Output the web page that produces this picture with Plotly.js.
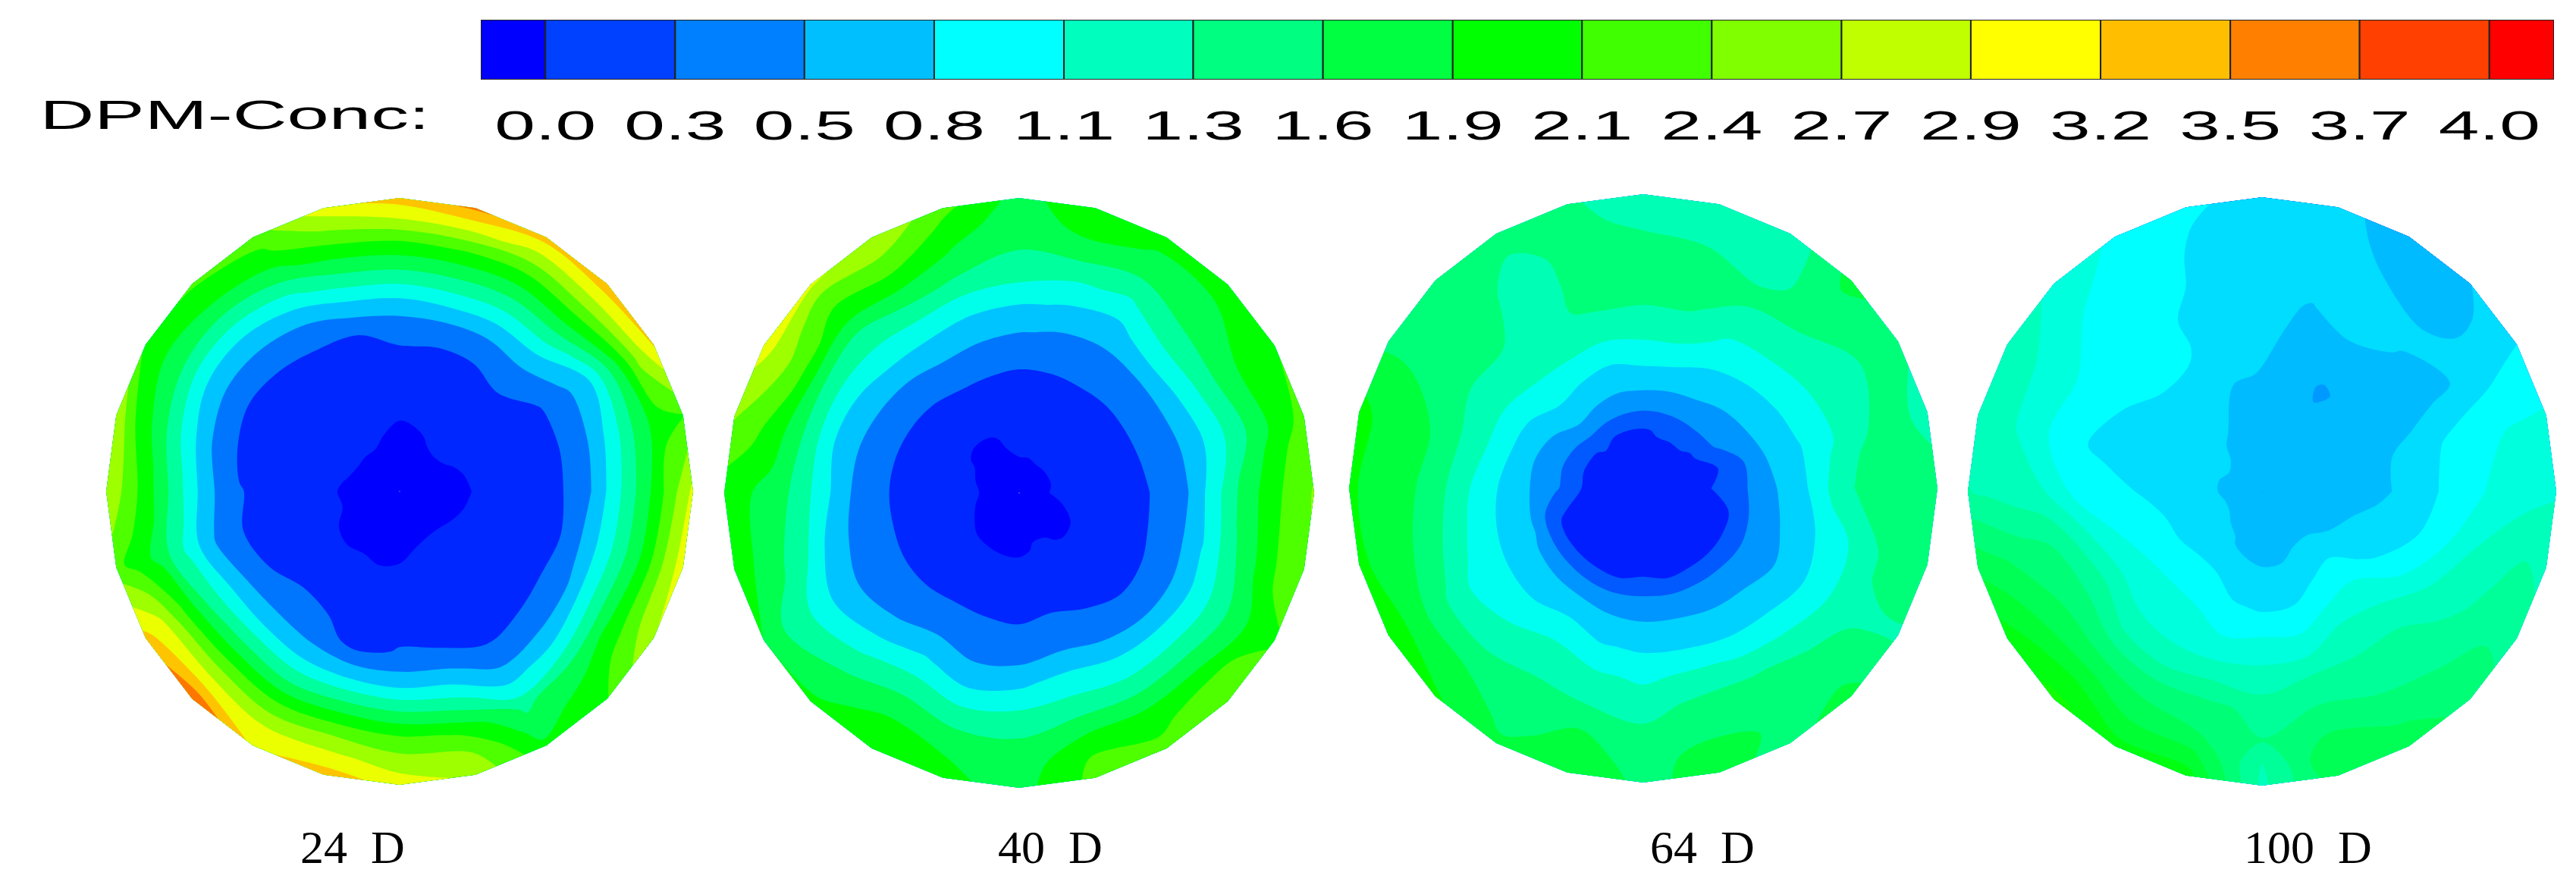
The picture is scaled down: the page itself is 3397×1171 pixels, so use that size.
<!DOCTYPE html>
<html>
<head>
<meta charset="utf-8">
<script src="https://cdn.plot.ly/plotly-3.0.1.min.js"></script>
<style>html,body{margin:0;padding:0;background:#fff}</style>
</head>
<body>
<div id="plot" style="width:3397px;height:1171px"></div>
<script>
//legend levels and colours
const legendLevels=[0,0.267,0.533,0.8,1.067,1.333,1.6,1.867,2.133,2.4,2.667,2.933,3.2,3.467,3.733,4];
const legendLabels=['0.0','0.3','0.5','0.8','1.1','1.3','1.6','1.9','2.1','2.4','2.7','2.9','3.2','3.5','3.7','4.0'];
const legendColors=['#0000ff','#0040ff','#0080ff','#00bfff','#00ffff','#00ffbf','#00ff80','#00ff40','#00ff00','#40ff00','#80ff00','#bfff00','#ffff00','#ffbf00','#ff8000','#ff4000','#ff0000'];
const legendEdges=[-0.133,0,0.267,0.533,0.8,1.067,1.333,1.6,1.867,2.133,2.4,2.667,2.933,3.2,3.467,3.733,4,4.133];

//sampling of the discs: angle in degrees, radius as part of disc radius
const angles=[0,15,30,45,60,75,90,105,120,135,150,165,180,195,210,225,240,255,270,285,300,315,330,345];
const rings=[0.001,0.2,0.4,0.55,0.65,0.75,0.85,0.93,1];
const rings64=[0.001,0.2,0.3,0.4,0.55,0.65,0.75,0.85,0.93,1];

//one row per angle, one column per ring (centre value kept apart)
const centre24=0.05;
const disc24=[
[.10,.28,.40,.69,1.24,1.80,2.30,2.75],
[.12,.29,.39,.64,1.13,1.72,2.02,2.10],
[.15,.30,.40,.62,.99,1.75,2.49,3.00],
[.16,.31,.54,.93,1.49,2.12,2.68,3.15],
[.15,.32,.47,.94,1.49,2.06,2.60,3.10],
[.12,.31,.47,.99,1.55,2.12,2.76,3.30],
[.10,.30,.49,.94,1.52,2.09,2.68,3.10],
[.14,.31,.42,.87,1.45,1.99,2.45,2.85],
[.16,.31,.40,.68,1.15,1.72,2.05,2.25],
[.16,.29,.35,.60,.99,1.55,1.97,2.15],
[.16,.28,.31,.57,.96,1.55,1.87,2.05],
[.15,.29,.36,.65,1.15,1.72,2.10,2.65],
[.13,.31,.44,.77,1.34,1.90,2.30,2.68],
[.14,.31,.42,.69,1.21,1.75,2.00,2.20],
[.10,.31,.46,.93,1.48,2.20,2.80,3.05],
[.07,.33,.55,.99,1.62,2.33,2.88,3.50],
[.09,.32,.50,.94,1.55,2.25,2.72,2.90],
[.08,.28,.36,.92,1.62,2.33,2.75,3.10],
[.09,.31,.44,.85,1.55,2.22,2.55,2.85],
[.14,.31,.42,.80,1.41,2.06,2.45,2.60],
[.15,.27,.30,.55,.93,1.50,1.70,1.90],
[.15,.28,.36,.60,1.06,1.72,1.95,2.10],
[.14,.30,.40,.67,1.27,1.90,2.35,2.65],
[.12,.28,.35,.75,1.27,1.83,2.40,2.85]];

const centre40=0.08;
const disc40=[
[.20,.36,.58,1.09,1.60,1.98,2.24,2.42],
[.19,.38,.65,.99,1.38,1.75,2.04,2.20],
[.19,.39,.69,1.07,1.50,1.83,1.98,2.10],
[.19,.39,.68,1.11,1.47,1.70,1.83,1.95],
[.19,.40,.66,.90,1.23,1.60,1.80,1.95],
[.18,.39,.67,.96,1.30,1.70,1.95,2.05],
[.18,.38,.72,1.02,1.41,1.60,1.65,1.72],
[.16,.41,.76,1.07,1.50,1.80,2.00,2.20],
[.12,.42,.80,1.15,1.60,2.07,2.40,2.65],
[.12,.38,.75,1.15,1.43,2.00,2.24,2.75],
[.15,.36,.71,1.03,1.50,2.20,2.55,2.80],
[.16,.35,.66,.99,1.51,1.97,2.24,2.42],
[.17,.35,.62,1.03,1.46,1.75,1.87,1.95],
[.16,.36,.59,.83,1.31,1.63,1.83,1.95],
[.15,.36,.56,.75,1.05,1.39,1.57,1.83],
[.14,.36,.58,.87,1.23,1.55,1.72,1.90],
[.13,.36,.69,1.03,1.41,1.76,1.97,2.05],
[.12,.37,.60,.85,1.27,1.63,1.83,1.90],
[.12,.35,.59,.93,1.32,1.60,1.66,1.72],
[.15,.38,.69,1.07,1.40,1.83,2.12,2.20],
[.15,.33,.60,.99,1.36,1.83,2.05,2.25],
[.13,.32,.50,.95,1.36,1.83,2.25,2.37],
[.14,.32,.52,.92,1.31,1.69,1.97,2.07],
[.16,.33,.60,1.00,1.50,1.90,2.22,2.35]];

const centre64=0.24;
const disc64=[
[.29,.42,.66,.96,1.28,1.50,1.55,1.60,1.60],
[.28,.36,.72,.98,1.17,1.38,1.50,1.45,1.30],
[.32,.61,.77,1.03,1.21,1.32,1.43,1.50,1.50],
[.34,.66,.80,1.09,1.28,1.43,1.54,1.62,1.72],
[.34,.67,.87,1.14,1.33,1.49,1.35,1.30,1.28],
[.34,.67,.92,1.32,1.47,1.50,1.43,1.30,1.25],
[.32,.68,.95,1.32,1.47,1.53,1.47,1.35,1.22],
[.32,.70,.90,1.30,1.48,1.55,1.52,1.50,1.48],
[.33,.72,.95,1.33,1.38,1.30,1.35,1.45,1.55],
[.34,.75,.99,1.29,1.41,1.50,1.55,1.60,1.63],
[.32,.65,.87,1.23,1.39,1.54,1.60,1.62,1.60],
[.30,.60,.81,1.21,1.44,1.65,1.75,1.83,1.95],
[.30,.59,.80,1.10,1.38,1.62,1.75,1.83,1.90],
[.29,.35,.79,1.05,1.28,1.55,1.72,1.82,1.92],
[.28,.30,.75,1.03,1.14,1.38,1.65,1.87,2.07],
[.28,.29,.73,1.03,1.22,1.39,1.64,1.78,1.90],
[.28,.28,.70,1.12,1.31,1.45,1.52,1.60,1.70],
[.27,.27,.68,1.00,1.24,1.41,1.66,1.73,1.75],
[.29,.33,.66,.97,1.18,1.36,1.50,1.58,1.62],
[.27,.27,.66,.95,1.24,1.47,1.60,1.72,1.70],
[.28,.29,.65,.90,1.18,1.46,1.56,1.62,1.60],
[.28,.29,.63,.88,1.11,1.37,1.55,1.62,1.72],
[.28,.30,.60,.82,1.03,1.25,1.38,1.40,1.40],
[.29,.33,.64,.88,1.08,1.26,1.48,1.58,1.60]];

const centre100=0.80;
const disc100=[
[.78,.82,.91,1.04,1.10,1.16,1.19,1.22],
[.75,.81,.90,.99,1.06,1.10,1.11,1.12],
[.75,.76,.78,.81,.85,.90,.95,.975],
[.76,.74,.80,.84,.86,.80,.78,.84],
[.76,.70,.82,.88,.88,.84,.80,.72],
[.75,.78,.82,.84,.88,.88,.90,.92],
[.74,.84,.87,.87,.89,.88,.90,.92],
[.74,.86,.90,.93,.95,.96,.975,1.00],
[.83,.93,1.00,.99,1.02,1.03,1.05,1.08],
[.86,.95,1.00,1.03,1.06,1.10,1.15,1.20],
[.87,.92,.975,1.04,1.12,1.20,1.28,1.33],
[.86,.90,.95,.99,1.105,1.22,1.30,1.36],
[.86,.96,1.03,1.09,1.25,1.30,1.34,1.37],
[.87,1.02,1.13,1.35,1.52,1.58,1.65,1.72],
[.87,1.04,1.235,1.44,1.59,1.72,1.85,1.95],
[.86,1.08,1.19,1.33,1.56,1.77,1.95,2.05],
[.85,1.07,1.18,1.30,1.53,1.69,1.80,1.95],
[.82,.99,1.15,1.34,1.53,1.63,1.80,1.95],
[.80,.96,1.19,1.30,1.46,1.50,1.36,1.33],
[.80,.97,1.17,1.37,1.495,1.62,1.75,1.72],
[.83,1.03,1.28,1.37,1.45,1.55,1.64,1.70],
[.83,1.07,1.24,1.36,1.43,1.495,1.55,1.58],
[.81,.92,1.09,1.235,1.32,1.41,1.47,1.42],
[.79,.88,.97,1.09,1.235,1.31,1.37,1.33]];

const discNames=['24\u00a0\u00a0D','40\u00a0\u00a0D','64\u00a0\u00a0D','100\u00a0\u00a0D'];

//page layout in pixels
const W=3397, H=1171;
const discBoxes=[
  {cx:527,cy:648,r:387,label:465,levelSize:0.282,rings:rings,centre:centre24,rows:disc24},
  {cx:1344,cy:650,r:389,label:1385,levelSize:0.282,rings:rings,centre:centre40,rows:disc40},
  {cx:2167,cy:644,r:388,label:2245,levelSize:0.22,rings:rings64,centre:centre64,rows:disc64},
  {cx:2983,cy:648,r:388,label:3043,levelSize:0.13,rings:rings,centre:centre100,rows:disc100}
];
const rainbow=[[0,'#0000ff'],[0.25,'#00ffff'],[0.5,'#00ff00'],[0.75,'#ffff00'],[1,'#ff0000']];

var traces=[];
var layout={
  width:W,height:H,margin:{l:0,r:0,t:0,b:0},
  paper_bgcolor:'#fff',plot_bgcolor:'#fff',showlegend:false,bargap:0,barmode:'overlay',
  annotations:[]
};

//colour legend on top
traces.push({
  type:'bar',orientation:'h',
  y:legendColors.map(()=>'c'),
  base:legendEdges.slice(0,-1),
  x:legendColors.map((c,i)=>legendEdges[i+1]-legendEdges[i]),
  width:1,
  marker:{color:legendColors,line:{color:'#222',width:2}},
  hoverinfo:'skip',xaxis:'x',yaxis:'y'
});
layout.xaxis={domain:[634/W,3368/W],range:[-0.133,4.133],tickmode:'array',tickvals:legendLevels,ticktext:legendLabels,
  showgrid:false,zeroline:false,showline:false,ticks:'',ticklabelstandoff:24,anchor:'y',
  tickfont:{family:'Liberation Sans',size:54,color:'#000'}};
layout.yaxis={domain:[1-105/H,1-26/H],visible:false,anchor:'x',type:'category'};

layout.annotations.push({xref:'paper',yref:'paper',x:309/W,y:1-151/H,text:'DPM-Conc:',showarrow:false,
  xanchor:'center',yanchor:'middle',font:{family:'Liberation Sans',size:54,color:'#000'}});

//discs: polar grid as carpet, contour bands on it
discBoxes.forEach(function(d,k){
  let n=k+2;
  let id='disc'+k;
  let xs=[],ys=[],zs=[];
  let bs=angles.concat([360]);
  for (let j=0;j<bs.length;j++)
  {
    let t=bs[j]*Math.PI/180;
    let row=d.rows[j%angles.length];
    xs.push(d.rings.map(r=>r*Math.cos(t)));
    ys.push(d.rings.map(r=>r*Math.sin(t)));
    zs.push([d.centre].concat(row));
  }
  let hidden={showgrid:false,showline:false,startline:false,endline:false,showticklabels:'none',
    minorgridcount:0,smoothing:0,ticks:''};
  traces.push({type:'carpet',carpet:id,a:d.rings,b:bs,x:xs,y:ys,aaxis:hidden,baxis:hidden,
    xaxis:'x'+n,yaxis:'y'+n,hoverinfo:'skip'});
  traces.push({type:'contourcarpet',carpet:id,z:zs,autocontour:false,
    contours:{start:d.levelSize/2,end:4,size:d.levelSize,coloring:'fill',showlines:false},
    line:{width:0},colorscale:rainbow,zauto:false,zmin:0,zmax:4,showscale:false,hoverinfo:'skip'});
  layout['xaxis'+n]={domain:[(d.cx-d.r)/W,(d.cx+d.r)/W],range:[-1,1],visible:false,anchor:'y'+n};
  layout['yaxis'+n]={domain:[1-(d.cy+d.r)/H,1-(d.cy-d.r)/H],range:[-1,1],visible:false,anchor:'x'+n};
  layout.annotations.push({xref:'paper',yref:'paper',x:d.label/W,y:1-1117/H,text:discNames[k],showarrow:false,
    xanchor:'center',yanchor:'middle',font:{family:'Liberation Serif',size:62,color:'#000'}});
});

Plotly.newPlot('plot',traces,layout,{displayModeBar:false,staticPlot:true}).then(function(){
  //the legend text in the picture is stretched wide
  document.querySelectorAll('.xtick text').forEach(function(t){
    t.setAttribute('textLength','134');
    t.setAttribute('lengthAdjust','spacingAndGlyphs');
  });
  document.querySelectorAll('.annotation-text').forEach(function(t){
    if (t.textContent.indexOf('DPM')==0)
    {
      t.setAttribute('textLength','514');
      t.setAttribute('lengthAdjust','spacingAndGlyphs');
    }
  });
});
</script>
</body>
</html>
